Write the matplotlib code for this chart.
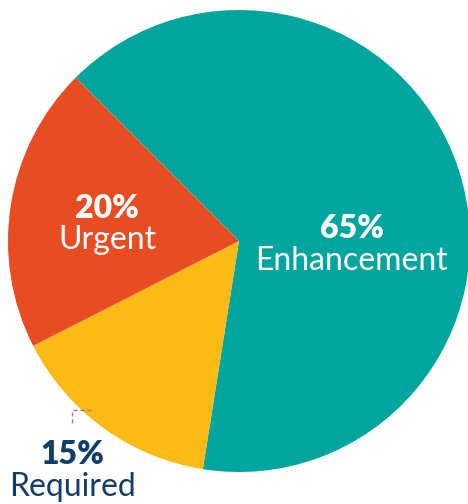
import matplotlib
matplotlib.use("Agg")
import matplotlib.pyplot as plt

categories = ["Enhancement", "Required", "Urgent"]
values = [65, 15, 20]
colors = ["#00A59E", "#FBBA16", "#E84C23"]

plt.rcParams['font.family'] = ['Lato', 'DejaVu Sans']

fig = plt.figure(figsize=(4.68, 5.04), dpi=100)
ax = fig.add_axes([0, 0, 1, 1])

cx, cy, r = 239, 241, 231
# y axis is inverted below, so data angles mirror visual ones
wedges, _ = ax.pie(values, colors=colors, startangle=-135, counterclock=True,
                   center=(cx, cy), radius=r, frame=True)
ax.set_xlim(0, 468)
ax.set_ylim(504, 0)
ax.set_aspect('equal')
ax.axis('off')

fs = 23
ax.text(107, 208, f"{values[2]}%", color="white", fontsize=fs, fontweight='heavy', ha='center', va='center')
ax.text(107, 240, categories[2], color="white", fontsize=fs, ha='center', va='center')
ax.text(352, 228, f"{values[0]}%", color="white", fontsize=fs, fontweight='heavy', ha='center', va='center')
ax.text(352, 261, categories[0], color="white", fontsize=fs, ha='center', va='center')
navy = "#103D6A"
ax.text(72, 455, f"{values[1]}%", color=navy, fontsize=fs, fontweight='heavy', ha='center', va='center')
ax.text(72, 487, categories[1], color=navy, fontsize=fs, ha='center', va='center')
ax.plot([72, 72, 94], [423, 410, 410], color="#888888", lw=1, ls=(0, (3, 2)))

fig.savefig("out.png", dpi=100)
